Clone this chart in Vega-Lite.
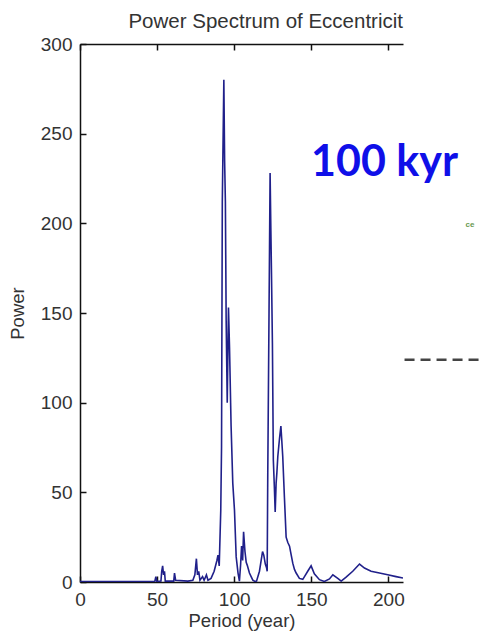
{
  "$schema": "https://vega.github.io/schema/vega-lite/v6.json",
  "width": 323,
  "height": 538,
  "autosize": {"type": "none"},
  "padding": {"left": 80, "top": 44, "right": 78, "bottom": 59},
  "background": "white",
  "config": {
    "view": {"stroke": null},
    "font": "Liberation Sans",
    "axis": {
      "domainColor": "#111",
      "domainWidth": 1.5,
      "tickColor": "#111",
      "tickSize": -6,
      "tickWidth": 1.5,
      "grid": false,
      "labelFont": "Liberation Sans",
      "labelFontSize": 19,
      "labelColor": "#333",
      "titleFont": "Liberation Sans",
      "titleFontSize": 18.5,
      "titleFontWeight": "normal",
      "titleColor": "#333"
    }
  },
  "title": {
    "text": "Power Spectrum of Eccentricit",
    "anchor": "end",
    "frame": "group",
    "fontSize": 20.5,
    "fontWeight": "normal",
    "color": "#333",
    "font": "Liberation Sans",
    "offset": 3
  },
  "resolve": {"axis": {"x": "independent"}},
  "datasets": {
    "spectrum": [
      {"period": 0, "power": 0.3},
      {"period": 20, "power": 0.3},
      {"period": 40, "power": 0.3},
      {"period": 48.5, "power": 0.3},
      {"period": 49.2, "power": 3},
      {"period": 49.8, "power": 0.3},
      {"period": 52.5, "power": 0.5},
      {"period": 53, "power": 6},
      {"period": 53.6, "power": 9},
      {"period": 54.2, "power": 4},
      {"period": 54.8, "power": 6},
      {"period": 55.3, "power": 0.5},
      {"period": 60.8, "power": 0.5},
      {"period": 61.3, "power": 5},
      {"period": 62, "power": 1},
      {"period": 70, "power": 0.5},
      {"period": 73.2, "power": 1},
      {"period": 74.5, "power": 4},
      {"period": 75.5, "power": 13},
      {"period": 76.2, "power": 4},
      {"period": 77, "power": 6},
      {"period": 77.8, "power": 1},
      {"period": 79.5, "power": 3},
      {"period": 80.5, "power": 1},
      {"period": 82, "power": 4},
      {"period": 83, "power": 1},
      {"period": 85, "power": 2},
      {"period": 87, "power": 6},
      {"period": 88.8, "power": 12},
      {"period": 89.5, "power": 15},
      {"period": 90.3, "power": 9},
      {"period": 91.3, "power": 40},
      {"period": 91.8, "power": 75},
      {"period": 92.3, "power": 212},
      {"period": 93.3, "power": 280},
      {"period": 93.8, "power": 235},
      {"period": 94.3, "power": 212},
      {"period": 94.8, "power": 146},
      {"period": 95.5, "power": 100},
      {"period": 96.3, "power": 153},
      {"period": 97, "power": 130},
      {"period": 98, "power": 87},
      {"period": 99.1, "power": 55},
      {"period": 100.2, "power": 40},
      {"period": 101.3, "power": 14},
      {"period": 102.5, "power": 5},
      {"period": 103.4, "power": 0.5},
      {"period": 104.2, "power": 10},
      {"period": 104.8, "power": 20},
      {"period": 105.5, "power": 12},
      {"period": 106.1, "power": 28},
      {"period": 107, "power": 17},
      {"period": 107.8, "power": 11},
      {"period": 108.6, "power": 9},
      {"period": 109.9, "power": 5},
      {"period": 111, "power": 3},
      {"period": 112.1, "power": 1},
      {"period": 113.5, "power": 0.3},
      {"period": 114.5, "power": 0.5},
      {"period": 116.4, "power": 6},
      {"period": 117.5, "power": 12},
      {"period": 118.4, "power": 17},
      {"period": 119.2, "power": 15},
      {"period": 120.2, "power": 10},
      {"period": 121, "power": 8},
      {"period": 121.4, "power": 6},
      {"period": 121.8, "power": 62},
      {"period": 122.6, "power": 150},
      {"period": 123.3, "power": 228},
      {"period": 123.8, "power": 196},
      {"period": 124.2, "power": 172},
      {"period": 124.8, "power": 133},
      {"period": 125.4, "power": 68},
      {"period": 126.1, "power": 52},
      {"period": 126.6, "power": 39},
      {"period": 127.2, "power": 55},
      {"period": 127.7, "power": 61},
      {"period": 128.3, "power": 70},
      {"period": 129.4, "power": 80},
      {"period": 130.3, "power": 87},
      {"period": 130.8, "power": 80},
      {"period": 131.5, "power": 70},
      {"period": 132.6, "power": 47},
      {"period": 133.7, "power": 25},
      {"period": 134.8, "power": 22},
      {"period": 135.9, "power": 20},
      {"period": 137, "power": 15},
      {"period": 138, "power": 10.5},
      {"period": 139.1, "power": 7},
      {"period": 140.2, "power": 5},
      {"period": 142.3, "power": 2},
      {"period": 144.5, "power": 1.5},
      {"period": 145.6, "power": 3},
      {"period": 147.7, "power": 6},
      {"period": 149.9, "power": 9},
      {"period": 152, "power": 4.6},
      {"period": 155.3, "power": 1.3},
      {"period": 158.5, "power": 0.3},
      {"period": 161.8, "power": 1.7},
      {"period": 164, "power": 4},
      {"period": 167.2, "power": 2},
      {"period": 169.4, "power": 0.5},
      {"period": 172.6, "power": 2.7},
      {"period": 176.9, "power": 6},
      {"period": 181.3, "power": 10},
      {"period": 184.5, "power": 7.8},
      {"period": 188.8, "power": 6},
      {"period": 194.2, "power": 5},
      {"period": 199.6, "power": 4},
      {"period": 205, "power": 3},
      {"period": 209.5, "power": 2.2}
    ],
    "notes": [
      {"period": 197.5, "power": 226.4, "label": "100 kyr", "kind": "big"},
      {"period": 253, "power": 199, "label": "ce", "kind": "small"}
    ],
    "dash": [
      {"period": 210.5, "period2": 260, "power": 124}
    ]
  },
  "layer": [
    {
      "data": {"name": "spectrum"},
      "mark": {"type": "line", "color": "#20208a", "strokeWidth": 1.6, "clip": true},
      "encoding": {
        "x": {
          "field": "period",
          "type": "quantitative",
          "scale": {"domain": [0, 209.5], "nice": false, "zero": false},
          "axis": {
            "orient": "bottom",
            "values": [0, 50, 100, 150, 200],
            "title": "Period (year)",
            "labelPadding": 14,
            "titlePadding": 2,
            "labelFlush": false
          }
        },
        "y": {
          "field": "power",
          "type": "quantitative",
          "scale": {"domain": [0, 300], "nice": false},
          "axis": {
            "values": [0, 50, 100, 150, 200, 250, 300],
            "title": "Power",
            "labelPadding": 14,
            "titlePadding": 13,
            "labelFlush": false
          }
        }
      }
    },
    {
      "data": {"name": "spectrum"},
      "mark": {"type": "rule", "opacity": 0},
      "encoding": {
        "x": {
          "field": "period",
          "type": "quantitative",
          "axis": {
            "orient": "top",
            "values": [0, 50, 100, 150, 200],
            "labels": false,
            "title": null
          }
        }
      }
    },
    {
      "data": {"name": "dash"},
      "mark": {"type": "rule", "color": "#444", "strokeWidth": 2.5, "strokeDash": [10, 6]},
      "encoding": {
        "x": {"field": "period", "type": "quantitative", "axis": null},
        "x2": {"field": "period2"},
        "y": {"field": "power", "type": "quantitative"}
      }
    },
    {
      "data": {"name": "notes"},
      "transform": [{"filter": "datum.kind === 'big'"}],
      "mark": {"type": "text", "font": "Lato", "fontWeight": "bold", "fontSize": 43, "color": "#0f0fe8", "align": "center", "baseline": "alphabetic"},
      "encoding": {
        "x": {"field": "period", "type": "quantitative", "axis": null},
        "y": {"field": "power", "type": "quantitative"},
        "text": {"field": "label"}
      }
    },
    {
      "data": {"name": "notes"},
      "transform": [{"filter": "datum.kind === 'small'"}],
      "mark": {"type": "text", "font": "Liberation Sans", "fontWeight": "bold", "fontSize": 8, "color": "#6a9a50", "align": "center", "baseline": "middle"},
      "encoding": {
        "x": {"field": "period", "type": "quantitative", "axis": null},
        "y": {"field": "power", "type": "quantitative"},
        "text": {"field": "label"}
      }
    }
  ]
}
